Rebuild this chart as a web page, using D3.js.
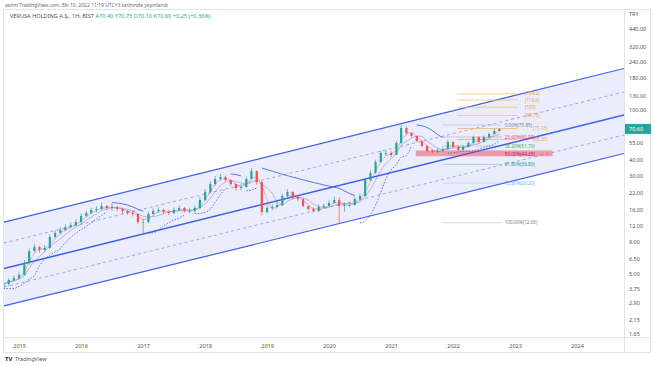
<!DOCTYPE html>
<html>
<head>
<meta charset="utf-8">
<script src="https://cdn.jsdelivr.net/npm/d3@7"></script>
<style>
  body { margin: 0; background: #fff; }
  svg { display: block; font-family: "Noto Sans", Roboto, sans-serif; }
</style>
</head>
<body>
<div id="chart"></div>
<script>
// monthly candles, Oct 2014 .. Oct 2022
const startMonth = new Date(2014, 9, 1);
const closes = [4.12, 4.44, 4.60,
  4.86, 6.05, 7.54, 8.12, 7.68, 7.97, 9.75, 10.49, 11.09, 11.72, 12.14, 12.83,
  14.32, 15.13, 15.99, 16.28, 17.20, 16.59, 16.89, 16.28, 15.70, 15.13, 14.86, 12.83,
  12.83, 14.86, 15.70, 15.99, 15.41, 15.13, 15.99, 16.59, 15.70, 15.70, 16.59, 19.20,
  22.24, 25.74, 28.21, 29.25, 27.68, 25.74, 23.92, 24.36, 28.21, 32.65, 26.70, 15.41,
  16.59, 16.89, 17.53, 20.65, 22.24, 20.28, 19.55, 17.20, 16.28, 15.70, 16.89, 17.20,
  18.17, 19.20, 17.20, 17.53, 17.53, 19.55, 20.65, 27.68, 31.50, 38.51, 45.41, 45.41,
  43.76, 54.53, 71.80, 65.49, 61.98, 56.60, 51.62, 47.13, 46.24, 47.13, 48.85, 55.53,
  50.70, 47.99, 50.70, 54.53, 60.88, 55.53, 60.88, 64.32, 67.96, 70.60];
const highs = [4.3, 4.6, 4.8,
  5.1, 6.4, 7.9, 8.6, 8.3, 8.4, 10.2, 11.0, 11.6, 12.3, 12.7, 13.4,
  15.0, 15.8, 16.7, 17.1, 18.3, 17.6, 17.9, 17.3, 16.6, 16.0, 15.6, 15.1,
  13.6, 15.5, 16.5, 16.8, 16.4, 16.0, 16.8, 17.4, 16.9, 16.5, 17.3, 20.2,
  23.5, 27.0, 29.8, 30.9, 30.0, 28.0, 26.0, 25.8, 29.5, 34.5, 33.0, 27.0,
  17.6, 17.8, 18.5, 21.5, 23.4, 22.5, 20.6, 19.8, 17.4, 16.8, 17.6, 18.0,
  19.0, 20.4, 20.2, 18.4, 18.5, 20.4, 21.6, 28.8, 33.0, 40.2, 47.5, 48.0,
  47.0, 57.0, 75.85, 73.0, 66.5, 62.0, 57.5, 52.5, 48.5, 49.5, 51.0, 58.0,
  56.5, 52.0, 52.5, 56.5, 62.5, 61.5, 62.5, 66.0, 70.5, 70.75];
const lows = [3.8, 4.0, 4.3,
  4.5, 4.8, 5.9, 7.3, 7.3, 7.4, 7.9, 9.5, 10.2, 10.8, 11.4, 11.9,
  12.6, 14.0, 14.8, 15.4, 16.0, 15.9, 15.8, 15.7, 15.0, 14.6, 14.2, 12.3,
  10.5, 12.5, 14.5, 15.2, 14.9, 14.6, 14.8, 15.6, 15.2, 15.0, 15.3, 16.2,
  18.8, 21.8, 25.0, 27.5, 26.8, 24.8, 22.8, 23.0, 24.0, 28.0, 25.5, 14.5,
  15.0, 16.0, 16.5, 17.2, 20.0, 19.6, 18.8, 16.8, 15.8, 15.2, 15.4, 16.5,
  16.9, 18.0, 12.65, 15.5, 16.8, 17.3, 19.0, 20.4, 27.0, 31.0, 38.0, 43.5,
  42.0, 43.5, 54.0, 63.0, 60.5, 55.5, 50.5, 46.0, 45.0, 45.5, 46.5, 48.0,
  49.5, 46.8, 47.5, 50.0, 53.5, 54.0, 55.0, 60.0, 63.5, 70.10];
const firstOpen = 3.9;

// regression channel: price at the two ends
const channelDates = [new Date(2014, 9, 4), new Date(2024, 9, 4)];
const channelUpper = [12.82, 213.5];
const channelUpperMid = [8.74, 138.8];
const channelMid = [5.48, 91.1];
const channelLowerMid = [3.90, 63.2];
const channelLower = [2.756, 45.0];

// fibonacci retracement
const fibLabels = ['0.00%', '23.60%', '38.20%', '50.00%', '61.80%', '78.60%', '100.00%'];
const fibPrices = [75.85, 60.90, 51.70, 44.25, 36.80, 26.20, 12.65];
const fibSpan = [new Date(2021, 10, 1), new Date(2022, 9, 15)];
const fibLabelDate = new Date(2022, 10, 1);
const fibZone = [47.6, 42.8];
const fibZoneSpan = [new Date(2021, 4, 26), new Date(2023, 7, 10)];

// trend-based extension levels
const extPrices = [134.2, 119.6, 105, 90.15, 71.15, 58.2];
const extLabels = ['(134.2)', '(119.6)', '(105)', '(90.15)', '(71.15)', '(58.20)'];
const extSpan = [new Date(2022, 0, 25), new Date(2023, 0, 18)];
const extLabelDate = new Date(2023, 2, 1);

const yTicks = [440, 320, 240, 180, 130, 100, 55, 40, 30, 22, 16, 12, 9, 6.5, 5, 3.75, 2.9, 2.15, 1.65];
const years = d3.range(2015, 2025);
const lastPrice = 70.60;

const width = 654;
const height = 366;
const plot = { left: 4, right: 624, top: 10, bottom: 337 };

const up = '#26a69a';
const down = '#ef5350';
const fibColors = ['#787b86', '#f23645', '#4caf50', '#f23645', '#089981', '#64b5f6', '#787b86'];

const svg = d3.select('#chart').append('svg')
  .attr('width', width).attr('height', height);

const x = d3.scaleTime()
  .domain([new Date(2014, 9, 4), new Date(2024, 9, 4)])
  .range([plot.left, plot.right]);
const y = d3.scaleLog().domain([440, 1.65]).range([29, 334]);

const candles = closes.map((c, i) => ({
  date: d3.timeMonth.offset(startMonth, i),
  open: i === 0 ? firstOpen : closes[i - 1],
  close: c,
  high: highs[i],
  low: lows[i],
}));

svg.append('defs').append('clipPath').attr('id', 'clip')
  .append('rect')
  .attr('x', plot.left).attr('y', plot.top)
  .attr('width', plot.right - plot.left).attr('height', plot.bottom - plot.top);

// frame
svg.append('rect')
  .attr('x', 3.5).attr('y', 9.5).attr('width', 647).attr('height', 343)
  .attr('fill', 'none').attr('stroke', '#e0e3eb');
svg.append('line').attr('x1', 3.5).attr('x2', 650.5).attr('y1', plot.bottom + 0.5).attr('y2', plot.bottom + 0.5)
  .attr('stroke', '#e0e3eb');
svg.append('line').attr('x1', plot.right + 0.5).attr('x2', plot.right + 0.5).attr('y1', 9.5).attr('y2', 352.5)
  .attr('stroke', '#e0e3eb');

const g = svg.append('g').attr('clip-path', 'url(#clip)');

// channel
const chPts = (arr) => channelDates.map((d, i) => [x(d), y(arr[i])]);
const area = channelDates.map((d, i) => ({ d, hi: channelUpper[i], lo: channelLower[i] }));
g.append('path')
  .attr('d', d3.area().x((d) => x(d.d)).y0((d) => y(d.lo)).y1((d) => y(d.hi))(area))
  .attr('fill', 'rgba(60,80,240,0.1)');

[[channelUpper, 1.2, null, '#3d5ef0'],
 [channelUpperMid, 0.9, '3,3', '#8f9ce6'],
 [channelMid, 1.5, null, '#3d5ef0'],
 [channelLowerMid, 0.9, '3,3', '#8f9ce6'],
 [channelLower, 1.2, null, '#3d5ef0']].forEach(([arr, w, dash, col]) => {
  g.append('path')
    .attr('d', d3.line()(chPts(arr)))
    .attr('stroke', col).attr('stroke-width', w)
    .attr('stroke-dasharray', dash).attr('fill', 'none');
});

// fib zone (50%)
g.append('rect')
  .attr('x', x(fibZoneSpan[0])).attr('width', x(fibZoneSpan[1]) - x(fibZoneSpan[0]))
  .attr('y', y(fibZone[0])).attr('height', y(fibZone[1]) - y(fibZone[0]))
  .attr('fill', 'rgba(242,54,69,0.45)');

// extension levels
extPrices.forEach((p, i) => {
  g.append('line')
    .attr('x1', x(extSpan[0])).attr('x2', x(extSpan[1]))
    .attr('y1', y(p)).attr('y2', y(p))
    .attr('stroke', i < 4 ? '#f5c66a' : '#f7b267').attr('stroke-width', 0.8);
  g.append('text')
    .attr('x', x(extLabelDate) + (i < 4 ? 0 : 8)).attr('y', y(p)).attr('dy', '0.35em')
    .attr('font-size', 4.6).attr('fill', '#f0a030').text(extLabels[i]);
});

// fib retracement
fibPrices.forEach((p, i) => {
  if (i !== 3) {
    g.append('line')
      .attr('x1', x(fibSpan[0])).attr('x2', x(fibSpan[1]))
      .attr('y1', y(p)).attr('y2', y(p))
      .attr('stroke', fibColors[i]).attr('stroke-opacity', 0.5).attr('stroke-width', 0.6);
  }
  g.append('text')
    .attr('x', x(fibLabelDate)).attr('y', y(p)).attr('dy', '0.35em')
    .attr('font-size', 4.6).attr('fill', i === 3 ? '#c2185b' : fibColors[i])
    .text(`${fibLabels[i]}(${p.toFixed(2)})`);
});

// parabolic sar from the monthly bars
function psar(data, step, maxAf) {
  let isUp = true, af = step, ep = data[0].high, sar = data[0].low;
  const out = [{ date: data[0].date, v: sar, up: isUp }];
  for (let i = 1; i < data.length; i++) {
    sar = sar + af * (ep - sar);
    const p1 = data[i - 1], p2 = data[Math.max(0, i - 2)];
    if (isUp) {
      sar = Math.min(sar, p1.low, p2.low);
      if (data[i].low < sar) { isUp = false; sar = ep; ep = data[i].low; af = step; }
      else if (data[i].high > ep) { ep = data[i].high; af = Math.min(af + step, maxAf); }
    } else {
      sar = Math.max(sar, p1.high, p2.high);
      if (data[i].high > sar) { isUp = true; sar = ep; ep = data[i].high; af = step; }
      else if (data[i].low < ep) { ep = data[i].low; af = Math.min(af + step, maxAf); }
    }
    out.push({ date: data[i].date, v: sar, up: isUp });
  }
  return out;
}
const sar = psar(candles, 0.05, 0.25);
const segs = [];
sar.forEach((s, i) => {
  if (i === 0 || s.up !== sar[i - 1].up) segs.push([]);
  segs[segs.length - 1].push(s);
});
segs.forEach((seg) => {
  g.append('path')
    .attr('d', d3.line().x((d) => x(d.date)).y((d) => y(d.v)).curve(d3.curveMonotoneX)(seg))
    .attr('fill', 'none').attr('stroke', '#3b5bdb').attr('stroke-width', 0.8)
    .attr('stroke-dasharray', seg[0].up ? '1.5,1.5' : null);
});

// moving averages
const ma = (n) => candles.map((c, i) => ({
  date: c.date,
  v: d3.mean(candles.slice(Math.max(0, i - n + 1), i + 1), (d) => d.close),
}));
[[ma(3), '#ef5350'], [ma(5), '#7e57c2']].forEach(([s, col]) => {
  g.append('path')
    .attr('d', d3.line().x((d) => x(d.date)).y((d) => y(d.v)).curve(d3.curveMonotoneX)(s))
    .attr('fill', 'none').attr('stroke', col).attr('stroke-opacity', 0.6).attr('stroke-width', 0.7);
});

// candles
const cg = g.append('g');
cg.selectAll('line')
  .data(candles)
  .join('line')
  .attr('x1', (d) => x(d.date)).attr('x2', (d) => x(d.date))
  .attr('y1', (d) => y(d.high)).attr('y2', (d) => y(d.low))
  .attr('stroke', (d) => (d.close >= d.open ? up : down)).attr('stroke-width', 0.7);
cg.selectAll('rect')
  .data(candles)
  .join('rect')
  .attr('x', (d) => x(d.date) - 1.1).attr('width', 2.2)
  .attr('y', (d) => y(Math.max(d.open, d.close)))
  .attr('height', (d) => Math.max(0.8, Math.abs(y(d.open) - y(d.close))))
  .attr('fill', (d) => (d.close >= d.open ? up : down));

// right price axis
const yAxis = d3.axisRight(y).tickValues(yTicks).tickSize(0).tickPadding(5)
  .tickFormat((d) => d.toFixed(2));
svg.append('g')
  .attr('transform', `translate(${plot.right}, 0)`)
  .call(yAxis)
  .call((a) => a.select('.domain').remove())
  .call((a) => a.selectAll('text').attr('font-size', 5.5).attr('fill', '#50535e')
    .attr('font-family', '"Noto Sans", Roboto, sans-serif'));
svg.append('text').attr('x', 629).attr('y', 16).attr('font-size', 5.5).attr('fill', '#50535e').text('TRY');

// last price badge
svg.append('rect')
  .attr('x', plot.right + 1).attr('y', y(lastPrice) - 5).attr('width', 26).attr('height', 10)
  .attr('fill', up);
svg.append('text')
  .attr('x', plot.right + 5).attr('y', y(lastPrice)).attr('dy', '0.35em')
  .attr('font-size', 5.5).attr('fill', '#fff').text(lastPrice.toFixed(2));

// time axis
const xAxis = d3.axisBottom(x)
  .tickValues(years.map((yr) => new Date(yr, 0, 1)))
  .tickSize(0).tickPadding(7)
  .tickFormat(d3.timeFormat('%Y'));
svg.append('g')
  .attr('transform', `translate(0, ${plot.bottom})`)
  .call(xAxis)
  .call((a) => a.select('.domain').remove())
  .call((a) => a.selectAll('text').attr('font-size', 5.5).attr('fill', '#50535e')
    .attr('font-family', '"Noto Sans", Roboto, sans-serif'));

// header
svg.append('text').attr('x', 5).attr('y', 6.5).attr('font-size', 5).attr('fill', '#6a6d78')
  .text('asnm TradingView.com, Eki 10, 2022 11:19 UTC+3 tarihinde yayınlandı');
const h2 = svg.append('text').attr('x', 10).attr('y', 18).attr('font-size', 5.6).attr('fill', '#4a4e59');
h2.append('tspan').text('VERUSA HOLDING A.Ş., 1H, BIST ');
['A70.40', 'Y70.75', 'D70.10', 'K70.60', '+0.25 (+0.36%)'].forEach((t) => {
  h2.append('tspan').attr('fill', up).text(' ' + t);
});

// footer logo
svg.append('text').attr('x', 5).attr('y', 361).attr('font-size', 6).attr('font-weight', 700)
  .attr('fill', '#131722').text('TV');
svg.append('text').attr('x', 15).attr('y', 361).attr('font-size', 5.5).attr('fill', '#50535e')
  .text('TradingView');
</script>
</body>
</html>
